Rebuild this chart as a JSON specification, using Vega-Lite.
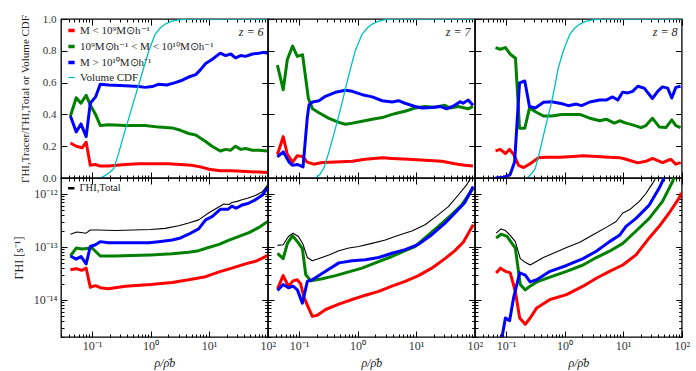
{
"$schema":"https://vega.github.io/schema/vega-lite/v6.json",
"padding":{"left":11,"top":12,"right":5,"bottom":5},
"datasets":{"d":[
{"z":6,"p":"f","s":"lo","x":0.0427,"y":0.22},{"z":6,"p":"f","s":"lo","x":0.0537,"y":0.2},{"z":6,"p":"f","s":"lo","x":0.0676,"y":0.19},{"z":6,"p":"f","s":"lo","x":0.0794,"y":0.225},{"z":6,"p":"f","s":"lo","x":0.0933,"y":0.08},{"z":6,"p":"f","s":"lo","x":0.1148,"y":0.085},{"z":6,"p":"f","s":"lo","x":0.138,"y":0.075},{"z":6,"p":"f","s":"lo","x":0.1905,"y":0.075},{"z":6,"p":"f","s":"lo","x":0.372,"y":0.085},{"z":6,"p":"f","s":"lo","x":0.631,"y":0.09},{"z":6,"p":"f","s":"lo","x":1,"y":0.09},{"z":6,"p":"f","s":"lo","x":2,"y":0.09},{"z":6,"p":"f","s":"lo","x":3.16,"y":0.085},{"z":6,"p":"f","s":"lo","x":5.01,"y":0.08},{"z":6,"p":"f","s":"lo","x":7.08,"y":0.07},{"z":6,"p":"f","s":"lo","x":10,"y":0.055},{"z":6,"p":"f","s":"lo","x":15.5,"y":0.045},{"z":6,"p":"f","s":"lo","x":25,"y":0.045},{"z":6,"p":"f","s":"lo","x":50,"y":0.04},{"z":6,"p":"f","s":"lo","x":100,"y":0.035},
{"z":6,"p":"f","s":"mid","x":0.0427,"y":0.39},{"z":6,"p":"f","s":"mid","x":0.0537,"y":0.505},{"z":6,"p":"f","s":"mid","x":0.0646,"y":0.47},{"z":6,"p":"f","s":"mid","x":0.0794,"y":0.52},{"z":6,"p":"f","s":"mid","x":0.0933,"y":0.46},{"z":6,"p":"f","s":"mid","x":0.1148,"y":0.4},{"z":6,"p":"f","s":"mid","x":0.138,"y":0.33},{"z":6,"p":"f","s":"mid","x":0.1905,"y":0.335},{"z":6,"p":"f","s":"mid","x":0.372,"y":0.33},{"z":6,"p":"f","s":"mid","x":0.81,"y":0.33},{"z":6,"p":"f","s":"mid","x":1.38,"y":0.32},{"z":6,"p":"f","s":"mid","x":2.34,"y":0.315},{"z":6,"p":"f","s":"mid","x":3.24,"y":0.3},{"z":6,"p":"f","s":"mid","x":4.47,"y":0.28},{"z":6,"p":"f","s":"mid","x":5.89,"y":0.27},{"z":6,"p":"f","s":"mid","x":8.71,"y":0.23},{"z":6,"p":"f","s":"mid","x":11.2,"y":0.2},{"z":6,"p":"f","s":"mid","x":15.5,"y":0.17},{"z":6,"p":"f","s":"mid","x":19.1,"y":0.18},{"z":6,"p":"f","s":"mid","x":23.4,"y":0.175},{"z":6,"p":"f","s":"mid","x":28.2,"y":0.2},{"z":6,"p":"f","s":"mid","x":34.7,"y":0.18},{"z":6,"p":"f","s":"mid","x":41.7,"y":0.185},{"z":6,"p":"f","s":"mid","x":55,"y":0.175},{"z":6,"p":"f","s":"mid","x":70.8,"y":0.175},{"z":6,"p":"f","s":"mid","x":100,"y":0.17},
{"z":6,"p":"f","s":"hi","x":0.0427,"y":0.39},{"z":6,"p":"f","s":"hi","x":0.0537,"y":0.29},{"z":6,"p":"f","s":"hi","x":0.0646,"y":0.34},{"z":6,"p":"f","s":"hi","x":0.0794,"y":0.26},{"z":6,"p":"f","s":"hi","x":0.0933,"y":0.47},{"z":6,"p":"f","s":"hi","x":0.1148,"y":0.51},{"z":6,"p":"f","s":"hi","x":0.138,"y":0.59},{"z":6,"p":"f","s":"hi","x":0.1905,"y":0.585},{"z":6,"p":"f","s":"hi","x":0.372,"y":0.58},{"z":6,"p":"f","s":"hi","x":0.631,"y":0.575},{"z":6,"p":"f","s":"hi","x":0.81,"y":0.57},{"z":6,"p":"f","s":"hi","x":1.07,"y":0.575},{"z":6,"p":"f","s":"hi","x":1.38,"y":0.59},{"z":6,"p":"f","s":"hi","x":1.9,"y":0.585},{"z":6,"p":"f","s":"hi","x":2.63,"y":0.6},{"z":6,"p":"f","s":"hi","x":3.47,"y":0.615},{"z":6,"p":"f","s":"hi","x":4.47,"y":0.635},{"z":6,"p":"f","s":"hi","x":5.89,"y":0.65},{"z":6,"p":"f","s":"hi","x":7.08,"y":0.68},{"z":6,"p":"f","s":"hi","x":8.71,"y":0.72},{"z":6,"p":"f","s":"hi","x":11.2,"y":0.745},{"z":6,"p":"f","s":"hi","x":15.5,"y":0.785},{"z":6,"p":"f","s":"hi","x":19.1,"y":0.77},{"z":6,"p":"f","s":"hi","x":23.4,"y":0.78},{"z":6,"p":"f","s":"hi","x":28.2,"y":0.755},{"z":6,"p":"f","s":"hi","x":34.7,"y":0.77},{"z":6,"p":"f","s":"hi","x":41.7,"y":0.765},{"z":6,"p":"f","s":"hi","x":55,"y":0.78},{"z":6,"p":"f","s":"hi","x":70.8,"y":0.785},{"z":6,"p":"f","s":"hi","x":85,"y":0.79},{"z":6,"p":"f","s":"hi","x":100,"y":0.785},
{"z":6,"p":"f","s":"cdf","x":0.138,"y":0},{"z":6,"p":"f","s":"cdf","x":0.166,"y":0.015},{"z":6,"p":"f","s":"cdf","x":0.2,"y":0.035},{"z":6,"p":"f","s":"cdf","x":0.234,"y":0.06},{"z":6,"p":"f","s":"cdf","x":0.282,"y":0.15},{"z":6,"p":"f","s":"cdf","x":0.347,"y":0.27},{"z":6,"p":"f","s":"cdf","x":0.427,"y":0.38},{"z":6,"p":"f","s":"cdf","x":0.513,"y":0.48},{"z":6,"p":"f","s":"cdf","x":0.631,"y":0.59},{"z":6,"p":"f","s":"cdf","x":0.759,"y":0.69},{"z":6,"p":"f","s":"cdf","x":0.933,"y":0.8},{"z":6,"p":"f","s":"cdf","x":1.2,"y":0.905},{"z":6,"p":"f","s":"cdf","x":1.48,"y":0.945},{"z":6,"p":"f","s":"cdf","x":1.78,"y":0.968},{"z":6,"p":"f","s":"cdf","x":2.24,"y":0.985},{"z":6,"p":"f","s":"cdf","x":3.02,"y":0.994},{"z":6,"p":"f","s":"cdf","x":4.47,"y":0.999},{"z":6,"p":"f","s":"cdf","x":6.61,"y":1},{"z":6,"p":"f","s":"cdf","x":100,"y":1},
{"z":7,"p":"f","s":"lo","x":0.0427,"y":0.148},{"z":7,"p":"f","s":"lo","x":0.0537,"y":0.26},{"z":7,"p":"f","s":"lo","x":0.0631,"y":0.148},{"z":7,"p":"f","s":"lo","x":0.0776,"y":0.1},{"z":7,"p":"f","s":"lo","x":0.0933,"y":0.14},{"z":7,"p":"f","s":"lo","x":0.1148,"y":0.135},{"z":7,"p":"f","s":"lo","x":0.138,"y":0.1},{"z":7,"p":"f","s":"lo","x":0.178,"y":0.087},{"z":7,"p":"f","s":"lo","x":0.251,"y":0.097},{"z":7,"p":"f","s":"lo","x":0.417,"y":0.1},{"z":7,"p":"f","s":"lo","x":0.813,"y":0.106},{"z":7,"p":"f","s":"lo","x":1.35,"y":0.118},{"z":7,"p":"f","s":"lo","x":2.63,"y":0.127},{"z":7,"p":"f","s":"lo","x":3.89,"y":0.123},{"z":7,"p":"f","s":"lo","x":7.41,"y":0.118},{"z":7,"p":"f","s":"lo","x":14.1,"y":0.112},{"z":7,"p":"f","s":"lo","x":27.5,"y":0.105},{"z":7,"p":"f","s":"lo","x":45.7,"y":0.09},{"z":7,"p":"f","s":"lo","x":67.6,"y":0.08},{"z":7,"p":"f","s":"lo","x":93.3,"y":0.076},
{"z":7,"p":"f","s":"mid","x":0.0427,"y":0.71},{"z":7,"p":"f","s":"mid","x":0.0537,"y":0.555},{"z":7,"p":"f","s":"mid","x":0.0631,"y":0.745},{"z":7,"p":"f","s":"mid","x":0.0776,"y":0.83},{"z":7,"p":"f","s":"mid","x":0.0933,"y":0.765},{"z":7,"p":"f","s":"mid","x":0.1148,"y":0.775},{"z":7,"p":"f","s":"mid","x":0.1445,"y":0.5},{"z":7,"p":"f","s":"mid","x":0.17,"y":0.435},{"z":7,"p":"f","s":"mid","x":0.219,"y":0.41},{"z":7,"p":"f","s":"mid","x":0.324,"y":0.375},{"z":7,"p":"f","s":"mid","x":0.479,"y":0.35},{"z":7,"p":"f","s":"mid","x":0.617,"y":0.338},{"z":7,"p":"f","s":"mid","x":0.813,"y":0.345},{"z":7,"p":"f","s":"mid","x":1.2,"y":0.357},{"z":7,"p":"f","s":"mid","x":1.78,"y":0.37},{"z":7,"p":"f","s":"mid","x":2.63,"y":0.38},{"z":7,"p":"f","s":"mid","x":3.89,"y":0.4},{"z":7,"p":"f","s":"mid","x":5.01,"y":0.41},{"z":7,"p":"f","s":"mid","x":6.46,"y":0.42},{"z":7,"p":"f","s":"mid","x":9.55,"y":0.44},{"z":7,"p":"f","s":"mid","x":14.1,"y":0.45},{"z":7,"p":"f","s":"mid","x":20.9,"y":0.445},{"z":7,"p":"f","s":"mid","x":30.9,"y":0.457},{"z":7,"p":"f","s":"mid","x":38,"y":0.44},{"z":7,"p":"f","s":"mid","x":52.5,"y":0.45},{"z":7,"p":"f","s":"mid","x":67.6,"y":0.44},{"z":7,"p":"f","s":"mid","x":77.6,"y":0.435},{"z":7,"p":"f","s":"mid","x":93.3,"y":0.45},
{"z":7,"p":"f","s":"hi","x":0.0427,"y":0.133},{"z":7,"p":"f","s":"hi","x":0.0537,"y":0.165},{"z":7,"p":"f","s":"hi","x":0.0676,"y":0.1},{"z":7,"p":"f","s":"hi","x":0.0776,"y":0.08},{"z":7,"p":"f","s":"hi","x":0.0933,"y":0.085},{"z":7,"p":"f","s":"hi","x":0.117,"y":0.07},{"z":7,"p":"f","s":"hi","x":0.138,"y":0.376},{"z":7,"p":"f","s":"hi","x":0.148,"y":0.46},{"z":7,"p":"f","s":"hi","x":0.17,"y":0.478},{"z":7,"p":"f","s":"hi","x":0.219,"y":0.486},{"z":7,"p":"f","s":"hi","x":0.282,"y":0.514},{"z":7,"p":"f","s":"hi","x":0.417,"y":0.539},{"z":7,"p":"f","s":"hi","x":0.617,"y":0.552},{"z":7,"p":"f","s":"hi","x":0.813,"y":0.545},{"z":7,"p":"f","s":"hi","x":1.2,"y":0.524},{"z":7,"p":"f","s":"hi","x":1.78,"y":0.51},{"z":7,"p":"f","s":"hi","x":2.63,"y":0.486},{"z":7,"p":"f","s":"hi","x":3.89,"y":0.478},{"z":7,"p":"f","s":"hi","x":5.01,"y":0.486},{"z":7,"p":"f","s":"hi","x":6.46,"y":0.47},{"z":7,"p":"f","s":"hi","x":9.55,"y":0.45},{"z":7,"p":"f","s":"hi","x":12.6,"y":0.44},{"z":7,"p":"f","s":"hi","x":18.6,"y":0.444},{"z":7,"p":"f","s":"hi","x":25.7,"y":0.45},{"z":7,"p":"f","s":"hi","x":33.1,"y":0.435},{"z":7,"p":"f","s":"hi","x":45.7,"y":0.457},{"z":7,"p":"f","s":"hi","x":56.2,"y":0.48},{"z":7,"p":"f","s":"hi","x":63.1,"y":0.47},{"z":7,"p":"f","s":"hi","x":77.6,"y":0.49},{"z":7,"p":"f","s":"hi","x":93.3,"y":0.457},
{"z":7,"p":"f","s":"cdf","x":0.191,"y":0},{"z":7,"p":"f","s":"cdf","x":0.224,"y":0.02},{"z":7,"p":"f","s":"cdf","x":0.263,"y":0.06},{"z":7,"p":"f","s":"cdf","x":0.316,"y":0.15},{"z":7,"p":"f","s":"cdf","x":0.389,"y":0.27},{"z":7,"p":"f","s":"cdf","x":0.468,"y":0.38},{"z":7,"p":"f","s":"cdf","x":0.55,"y":0.48},{"z":7,"p":"f","s":"cdf","x":0.646,"y":0.59},{"z":7,"p":"f","s":"cdf","x":0.759,"y":0.69},{"z":7,"p":"f","s":"cdf","x":0.912,"y":0.8},{"z":7,"p":"f","s":"cdf","x":1.2,"y":0.905},{"z":7,"p":"f","s":"cdf","x":1.48,"y":0.945},{"z":7,"p":"f","s":"cdf","x":1.78,"y":0.968},{"z":7,"p":"f","s":"cdf","x":2.24,"y":0.985},{"z":7,"p":"f","s":"cdf","x":2.82,"y":0.995},{"z":7,"p":"f","s":"cdf","x":3.89,"y":1},{"z":7,"p":"f","s":"cdf","x":100,"y":1},
{"z":8,"p":"f","s":"lo","x":0.0661,"y":0.171},{"z":8,"p":"f","s":"lo","x":0.0794,"y":0.18},{"z":8,"p":"f","s":"lo","x":0.0977,"y":0.154},{"z":8,"p":"f","s":"lo","x":0.115,"y":0.18},{"z":8,"p":"f","s":"lo","x":0.135,"y":0.148},{"z":8,"p":"f","s":"lo","x":0.164,"y":0.08},{"z":8,"p":"f","s":"lo","x":0.2,"y":0.066},{"z":8,"p":"f","s":"lo","x":0.258,"y":0.09},{"z":8,"p":"f","s":"lo","x":0.358,"y":0.127},{"z":8,"p":"f","s":"lo","x":0.495,"y":0.13},{"z":8,"p":"f","s":"lo","x":0.834,"y":0.13},{"z":8,"p":"f","s":"lo","x":1.4,"y":0.135},{"z":8,"p":"f","s":"lo","x":2.07,"y":0.14},{"z":8,"p":"f","s":"lo","x":3.48,"y":0.135},{"z":8,"p":"f","s":"lo","x":5.86,"y":0.13},{"z":8,"p":"f","s":"lo","x":8.67,"y":0.128},{"z":8,"p":"f","s":"lo","x":11.2,"y":0.118},{"z":8,"p":"f","s":"lo","x":17.7,"y":0.095},{"z":8,"p":"f","s":"lo","x":24.5,"y":0.105},{"z":8,"p":"f","s":"lo","x":31.8,"y":0.123},{"z":8,"p":"f","s":"lo","x":47,"y":0.097},{"z":8,"p":"f","s":"lo","x":65.2,"y":0.118},{"z":8,"p":"f","s":"lo","x":79.1,"y":0.087},{"z":8,"p":"f","s":"lo","x":96.2,"y":0.097},
{"z":8,"p":"f","s":"mid","x":0.0661,"y":0.82},{"z":8,"p":"f","s":"mid","x":0.0794,"y":0.81},{"z":8,"p":"f","s":"mid","x":0.0977,"y":0.82},{"z":8,"p":"f","s":"mid","x":0.117,"y":0.78},{"z":8,"p":"f","s":"mid","x":0.145,"y":0.753},{"z":8,"p":"f","s":"mid","x":0.17,"y":0.313},{"z":8,"p":"f","s":"mid","x":0.209,"y":0.313},{"z":8,"p":"f","s":"mid","x":0.251,"y":0.44},{"z":8,"p":"f","s":"mid","x":0.335,"y":0.412},{"z":8,"p":"f","s":"mid","x":0.437,"y":0.39},{"z":8,"p":"f","s":"mid","x":0.603,"y":0.39},{"z":8,"p":"f","s":"mid","x":0.891,"y":0.4},{"z":8,"p":"f","s":"mid","x":1.41,"y":0.4},{"z":8,"p":"f","s":"mid","x":1.82,"y":0.4},{"z":8,"p":"f","s":"mid","x":2.69,"y":0.376},{"z":8,"p":"f","s":"mid","x":3.98,"y":0.36},{"z":8,"p":"f","s":"mid","x":5.13,"y":0.37},{"z":8,"p":"f","s":"mid","x":7.08,"y":0.345},{"z":8,"p":"f","s":"mid","x":8.71,"y":0.36},{"z":8,"p":"f","s":"mid","x":11.2,"y":0.345},{"z":8,"p":"f","s":"mid","x":14.5,"y":0.334},{"z":8,"p":"f","s":"mid","x":20.2,"y":0.317},{"z":8,"p":"f","s":"mid","x":24.5,"y":0.33},{"z":8,"p":"f","s":"mid","x":31.6,"y":0.376},{"z":8,"p":"f","s":"mid","x":41.7,"y":0.32},{"z":8,"p":"f","s":"mid","x":53.7,"y":0.317},{"z":8,"p":"f","s":"mid","x":67.6,"y":0.366},{"z":8,"p":"f","s":"mid","x":79.4,"y":0.33},{"z":8,"p":"f","s":"mid","x":95.5,"y":0.317},
{"z":8,"p":"f","s":"hi","x":0.0661,"y":0},{"z":8,"p":"f","s":"hi","x":0.0912,"y":0.005},{"z":8,"p":"f","s":"hi","x":0.117,"y":0.02},{"z":8,"p":"f","s":"hi","x":0.14,"y":0.1},{"z":8,"p":"f","s":"hi","x":0.17,"y":0.598},{"z":8,"p":"f","s":"hi","x":0.209,"y":0.61},{"z":8,"p":"f","s":"hi","x":0.251,"y":0.45},{"z":8,"p":"f","s":"hi","x":0.316,"y":0.44},{"z":8,"p":"f","s":"hi","x":0.437,"y":0.476},{"z":8,"p":"f","s":"hi","x":0.603,"y":0.48},{"z":8,"p":"f","s":"hi","x":0.955,"y":0.465},{"z":8,"p":"f","s":"hi","x":1.15,"y":0.455},{"z":8,"p":"f","s":"hi","x":1.58,"y":0.465},{"z":8,"p":"f","s":"hi","x":1.95,"y":0.455},{"z":8,"p":"f","s":"hi","x":2.69,"y":0.478},{"z":8,"p":"f","s":"hi","x":3.98,"y":0.49},{"z":8,"p":"f","s":"hi","x":5.13,"y":0.49},{"z":8,"p":"f","s":"hi","x":6.61,"y":0.51},{"z":8,"p":"f","s":"hi","x":8.13,"y":0.49},{"z":8,"p":"f","s":"hi","x":9.77,"y":0.54},{"z":8,"p":"f","s":"hi","x":12,"y":0.535},{"z":8,"p":"f","s":"hi","x":14.5,"y":0.545},{"z":8,"p":"f","s":"hi","x":17.8,"y":0.577},{"z":8,"p":"f","s":"hi","x":22.9,"y":0.565},{"z":8,"p":"f","s":"hi","x":31.6,"y":0.5},{"z":8,"p":"f","s":"hi","x":38.9,"y":0.545},{"z":8,"p":"f","s":"hi","x":46.8,"y":0.573},{"z":8,"p":"f","s":"hi","x":57.5,"y":0.565},{"z":8,"p":"f","s":"hi","x":67.6,"y":0.503},{"z":8,"p":"f","s":"hi","x":79.4,"y":0.57},{"z":8,"p":"f","s":"hi","x":95.5,"y":0.577},
{"z":8,"p":"f","s":"cdf","x":0.229,"y":0},{"z":8,"p":"f","s":"cdf","x":0.269,"y":0.025},{"z":8,"p":"f","s":"cdf","x":0.316,"y":0.06},{"z":8,"p":"f","s":"cdf","x":0.372,"y":0.16},{"z":8,"p":"f","s":"cdf","x":0.437,"y":0.27},{"z":8,"p":"f","s":"cdf","x":0.513,"y":0.375},{"z":8,"p":"f","s":"cdf","x":0.603,"y":0.48},{"z":8,"p":"f","s":"cdf","x":0.692,"y":0.59},{"z":8,"p":"f","s":"cdf","x":0.776,"y":0.69},{"z":8,"p":"f","s":"cdf","x":0.955,"y":0.8},{"z":8,"p":"f","s":"cdf","x":1.23,"y":0.905},{"z":8,"p":"f","s":"cdf","x":1.51,"y":0.945},{"z":8,"p":"f","s":"cdf","x":1.82,"y":0.968},{"z":8,"p":"f","s":"cdf","x":2.29,"y":0.985},{"z":8,"p":"f","s":"cdf","x":3.02,"y":0.995},{"z":8,"p":"f","s":"cdf","x":4.47,"y":1},{"z":8,"p":"f","s":"cdf","x":100,"y":1},
{"z":6,"p":"g","s":"lo","x":0.0427,"y":3.72e-14},{"z":6,"p":"g","s":"lo","x":0.0537,"y":3.89e-14},{"z":6,"p":"g","s":"lo","x":0.0661,"y":3.63e-14},{"z":6,"p":"g","s":"lo","x":0.0794,"y":3.98e-14},{"z":6,"p":"g","s":"lo","x":0.0933,"y":1.74e-14},{"z":6,"p":"g","s":"lo","x":0.1148,"y":1.86e-14},{"z":6,"p":"g","s":"lo","x":0.138,"y":1.7e-14},{"z":6,"p":"g","s":"lo","x":0.1905,"y":1.62e-14},{"z":6,"p":"g","s":"lo","x":0.372,"y":1.82e-14},{"z":6,"p":"g","s":"lo","x":1,"y":1.95e-14},{"z":6,"p":"g","s":"lo","x":2.34,"y":2.14e-14},{"z":6,"p":"g","s":"lo","x":4.47,"y":2.4e-14},{"z":6,"p":"g","s":"lo","x":8.71,"y":2.75e-14},{"z":6,"p":"g","s":"lo","x":14.8,"y":3.39e-14},{"z":6,"p":"g","s":"lo","x":24.5,"y":3.98e-14},{"z":6,"p":"g","s":"lo","x":41.7,"y":4.79e-14},{"z":6,"p":"g","s":"lo","x":61.7,"y":5.37e-14},{"z":6,"p":"g","s":"lo","x":81.3,"y":6.17e-14},{"z":6,"p":"g","s":"lo","x":100,"y":6.92e-14},
{"z":6,"p":"g","s":"mid","x":0.0427,"y":6.76e-14},{"z":6,"p":"g","s":"mid","x":0.0537,"y":9.55e-14},{"z":6,"p":"g","s":"mid","x":0.0676,"y":9.12e-14},{"z":6,"p":"g","s":"mid","x":0.0813,"y":9.33e-14},{"z":6,"p":"g","s":"mid","x":0.1,"y":9.55e-14},{"z":6,"p":"g","s":"mid","x":0.138,"y":6.76e-14},{"z":6,"p":"g","s":"mid","x":0.251,"y":6.76e-14},{"z":6,"p":"g","s":"mid","x":0.479,"y":6.92e-14},{"z":6,"p":"g","s":"mid","x":1,"y":7.08e-14},{"z":6,"p":"g","s":"mid","x":2.34,"y":7.41e-14},{"z":6,"p":"g","s":"mid","x":4.47,"y":7.94e-14},{"z":6,"p":"g","s":"mid","x":6.61,"y":8.51e-14},{"z":6,"p":"g","s":"mid","x":9.77,"y":9.77e-14},{"z":6,"p":"g","s":"mid","x":14.8,"y":1.12e-13},{"z":6,"p":"g","s":"mid","x":21.9,"y":1.35e-13},{"z":6,"p":"g","s":"mid","x":32.4,"y":1.58e-13},{"z":6,"p":"g","s":"mid","x":47.9,"y":1.86e-13},{"z":6,"p":"g","s":"mid","x":70.8,"y":2.34e-13},{"z":6,"p":"g","s":"mid","x":100,"y":3.02e-13},
{"z":6,"p":"g","s":"hi","x":0.0427,"y":6.76e-14},{"z":6,"p":"g","s":"hi","x":0.0537,"y":5.89e-14},{"z":6,"p":"g","s":"hi","x":0.0646,"y":6.61e-14},{"z":6,"p":"g","s":"hi","x":0.0794,"y":4.79e-14},{"z":6,"p":"g","s":"hi","x":0.0933,"y":1.02e-13},{"z":6,"p":"g","s":"hi","x":0.1148,"y":1.1e-13},{"z":6,"p":"g","s":"hi","x":0.138,"y":1.26e-13},{"z":6,"p":"g","s":"hi","x":0.1905,"y":1.2e-13},{"z":6,"p":"g","s":"hi","x":0.372,"y":1.2e-13},{"z":6,"p":"g","s":"hi","x":0.933,"y":1.2e-13},{"z":6,"p":"g","s":"hi","x":1.38,"y":1.26e-13},{"z":6,"p":"g","s":"hi","x":2.34,"y":1.35e-13},{"z":6,"p":"g","s":"hi","x":3.24,"y":1.48e-13},{"z":6,"p":"g","s":"hi","x":4.47,"y":1.74e-13},{"z":6,"p":"g","s":"hi","x":6.61,"y":2.19e-13},{"z":6,"p":"g","s":"hi","x":8.71,"y":3.24e-13},{"z":6,"p":"g","s":"hi","x":11.2,"y":3.72e-13},{"z":6,"p":"g","s":"hi","x":15.5,"y":5.13e-13},{"z":6,"p":"g","s":"hi","x":20.9,"y":5.13e-13},{"z":6,"p":"g","s":"hi","x":24.5,"y":5.89e-13},{"z":6,"p":"g","s":"hi","x":28.8,"y":5.37e-13},{"z":6,"p":"g","s":"hi","x":36.3,"y":6.17e-13},{"z":6,"p":"g","s":"hi","x":46,"y":6.61e-13},{"z":6,"p":"g","s":"hi","x":61.7,"y":7.76e-13},{"z":6,"p":"g","s":"hi","x":81.3,"y":9.55e-13},{"z":6,"p":"g","s":"hi","x":100,"y":1.32e-12},
{"z":6,"p":"g","s":"tot","x":0.0427,"y":1.74e-13},{"z":6,"p":"g","s":"tot","x":0.055,"y":1.91e-13},{"z":6,"p":"g","s":"tot","x":0.0646,"y":1.88e-13},{"z":6,"p":"g","s":"tot","x":0.0794,"y":1.82e-13},{"z":6,"p":"g","s":"tot","x":0.0933,"y":2.09e-13},{"z":6,"p":"g","s":"tot","x":0.129,"y":2.09e-13},{"z":6,"p":"g","s":"tot","x":0.251,"y":2.04e-13},{"z":6,"p":"g","s":"tot","x":1,"y":2.14e-13},{"z":6,"p":"g","s":"tot","x":1.78,"y":2.24e-13},{"z":6,"p":"g","s":"tot","x":3.02,"y":2.51e-13},{"z":6,"p":"g","s":"tot","x":4.47,"y":2.82e-13},{"z":6,"p":"g","s":"tot","x":6.61,"y":3.24e-13},{"z":6,"p":"g","s":"tot","x":9.77,"y":4.37e-13},{"z":6,"p":"g","s":"tot","x":14.8,"y":5.75e-13},{"z":6,"p":"g","s":"tot","x":17.8,"y":6.46e-13},{"z":6,"p":"g","s":"tot","x":21.9,"y":6.31e-13},{"z":6,"p":"g","s":"tot","x":24.5,"y":6.92e-13},{"z":6,"p":"g","s":"tot","x":30,"y":7.24e-13},{"z":6,"p":"g","s":"tot","x":36.3,"y":7.76e-13},{"z":6,"p":"g","s":"tot","x":45,"y":8.3e-13},{"z":6,"p":"g","s":"tot","x":61.7,"y":9.33e-13},{"z":6,"p":"g","s":"tot","x":81.3,"y":1.1e-12},{"z":6,"p":"g","s":"tot","x":100,"y":1.48e-12},
{"z":7,"p":"g","s":"lo","x":0.0429,"y":1.62e-14},{"z":7,"p":"g","s":"lo","x":0.0535,"y":2.88e-14},{"z":7,"p":"g","s":"lo","x":0.0659,"y":1.82e-14},{"z":7,"p":"g","s":"lo","x":0.079,"y":2.29e-14},{"z":7,"p":"g","s":"lo","x":0.0937,"y":2.4e-14},{"z":7,"p":"g","s":"lo","x":0.1066,"y":2e-14},{"z":7,"p":"g","s":"lo","x":0.1216,"y":1.12e-14},{"z":7,"p":"g","s":"lo","x":0.144,"y":7.24e-15},{"z":7,"p":"g","s":"lo","x":0.1687,"y":4.9e-15},{"z":7,"p":"g","s":"lo","x":0.205,"y":5.13e-15},{"z":7,"p":"g","s":"lo","x":0.284,"y":6.61e-15},{"z":7,"p":"g","s":"lo","x":0.479,"y":8.32e-15},{"z":7,"p":"g","s":"lo","x":0.807,"y":1.02e-14},{"z":7,"p":"g","s":"lo","x":1.36,"y":1.23e-14},{"z":7,"p":"g","s":"lo","x":2.29,"y":1.45e-14},{"z":7,"p":"g","s":"lo","x":3.86,"y":1.82e-14},{"z":7,"p":"g","s":"lo","x":6.5,"y":2.24e-14},{"z":7,"p":"g","s":"lo","x":10.96,"y":2.88e-14},{"z":7,"p":"g","s":"lo","x":18.5,"y":3.98e-14},{"z":7,"p":"g","s":"lo","x":31.1,"y":6.03e-14},{"z":7,"p":"g","s":"lo","x":46,"y":8.51e-14},{"z":7,"p":"g","s":"lo","x":63.8,"y":1.23e-13},{"z":7,"p":"g","s":"lo","x":94.4,"y":2.63e-13},
{"z":7,"p":"g","s":"mid","x":0.0429,"y":7.59e-14},{"z":7,"p":"g","s":"mid","x":0.0535,"y":6.03e-14},{"z":7,"p":"g","s":"mid","x":0.0634,"y":1.17e-13},{"z":7,"p":"g","s":"mid","x":0.077,"y":1.62e-13},{"z":7,"p":"g","s":"mid","x":0.0937,"y":1.26e-13},{"z":7,"p":"g","s":"mid","x":0.114,"y":9.33e-14},{"z":7,"p":"g","s":"mid","x":0.13,"y":3.02e-14},{"z":7,"p":"g","s":"mid","x":0.158,"y":2.29e-14},{"z":7,"p":"g","s":"mid","x":0.249,"y":2.51e-14},{"z":7,"p":"g","s":"mid","x":0.42,"y":2.88e-14},{"z":7,"p":"g","s":"mid","x":0.708,"y":3.39e-14},{"z":7,"p":"g","s":"mid","x":1.19,"y":3.98e-14},{"z":7,"p":"g","s":"mid","x":2.01,"y":5.01e-14},{"z":7,"p":"g","s":"mid","x":3.86,"y":6.61e-14},{"z":7,"p":"g","s":"mid","x":6.5,"y":8.51e-14},{"z":7,"p":"g","s":"mid","x":9.61,"y":1.02e-13},{"z":7,"p":"g","s":"mid","x":14.2,"y":1.48e-13},{"z":7,"p":"g","s":"mid","x":24,"y":2.45e-13},{"z":7,"p":"g","s":"mid","x":40.4,"y":4.07e-13},{"z":7,"p":"g","s":"mid","x":59.7,"y":6.17e-13},{"z":7,"p":"g","s":"mid","x":94.4,"y":1.29e-12},
{"z":7,"p":"g","s":"hi","x":0.0429,"y":1.51e-14},{"z":7,"p":"g","s":"hi","x":0.0535,"y":1.95e-14},{"z":7,"p":"g","s":"hi","x":0.0659,"y":1.7e-14},{"z":7,"p":"g","s":"hi","x":0.079,"y":1.82e-14},{"z":7,"p":"g","s":"hi","x":0.0937,"y":1.55e-14},{"z":7,"p":"g","s":"hi","x":0.114,"y":8.71e-15},{"z":7,"p":"g","s":"hi","x":0.1387,"y":2.24e-14},{"z":7,"p":"g","s":"hi","x":0.1687,"y":2.4e-14},{"z":7,"p":"g","s":"hi","x":0.284,"y":3.47e-14},{"z":7,"p":"g","s":"hi","x":0.479,"y":5.01e-14},{"z":7,"p":"g","s":"hi","x":0.807,"y":5.5e-14},{"z":7,"p":"g","s":"hi","x":1.36,"y":5.75e-14},{"z":7,"p":"g","s":"hi","x":2.29,"y":6.31e-14},{"z":7,"p":"g","s":"hi","x":3.86,"y":7.59e-14},{"z":7,"p":"g","s":"hi","x":6.5,"y":8.91e-14},{"z":7,"p":"g","s":"hi","x":10.96,"y":1.12e-13},{"z":7,"p":"g","s":"hi","x":18.5,"y":1.7e-13},{"z":7,"p":"g","s":"hi","x":31.1,"y":2.82e-13},{"z":7,"p":"g","s":"hi","x":46,"y":4.37e-13},{"z":7,"p":"g","s":"hi","x":68.1,"y":6.92e-13},{"z":7,"p":"g","s":"hi","x":94.4,"y":1.38e-12},
{"z":7,"p":"g","s":"tot","x":0.0429,"y":1.07e-13},{"z":7,"p":"g","s":"tot","x":0.0535,"y":1.1e-13},{"z":7,"p":"g","s":"tot","x":0.0659,"y":1.58e-13},{"z":7,"p":"g","s":"tot","x":0.079,"y":1.82e-13},{"z":7,"p":"g","s":"tot","x":0.0975,"y":1.58e-13},{"z":7,"p":"g","s":"tot","x":0.117,"y":1.12e-13},{"z":7,"p":"g","s":"tot","x":0.1387,"y":6.31e-14},{"z":7,"p":"g","s":"tot","x":0.1687,"y":5.5e-14},{"z":7,"p":"g","s":"tot","x":0.219,"y":6.03e-14},{"z":7,"p":"g","s":"tot","x":0.324,"y":7.08e-14},{"z":7,"p":"g","s":"tot","x":0.479,"y":8.51e-14},{"z":7,"p":"g","s":"tot","x":0.708,"y":9.55e-14},{"z":7,"p":"g","s":"tot","x":1.047,"y":1.02e-13},{"z":7,"p":"g","s":"tot","x":1.76,"y":1.17e-13},{"z":7,"p":"g","s":"tot","x":2.97,"y":1.35e-13},{"z":7,"p":"g","s":"tot","x":5.01,"y":1.66e-13},{"z":7,"p":"g","s":"tot","x":8.43,"y":2e-13},{"z":7,"p":"g","s":"tot","x":14.2,"y":2.63e-13},{"z":7,"p":"g","s":"tot","x":24,"y":4.07e-13},{"z":7,"p":"g","s":"tot","x":35.5,"y":5.75e-13},{"z":7,"p":"g","s":"tot","x":52.5,"y":9.55e-13},{"z":7,"p":"g","s":"tot","x":72.6,"y":1.48e-12},{"z":7,"p":"g","s":"tot","x":86.1,"y":2.04e-12},
{"z":8,"p":"g","s":"lo","x":0.0678,"y":3.24e-14},{"z":8,"p":"g","s":"lo","x":0.0802,"y":3.98e-14},{"z":8,"p":"g","s":"lo","x":0.0975,"y":3.47e-14},{"z":8,"p":"g","s":"lo","x":0.118,"y":3.24e-14},{"z":8,"p":"g","s":"lo","x":0.144,"y":1.45e-14},{"z":8,"p":"g","s":"lo","x":0.171,"y":4.57e-15},{"z":8,"p":"g","s":"lo","x":0.213,"y":3.47e-15},{"z":8,"p":"g","s":"lo","x":0.258,"y":4.57e-15},{"z":8,"p":"g","s":"lo","x":0.335,"y":7.08e-15},{"z":8,"p":"g","s":"lo","x":0.564,"y":1.02e-14},{"z":8,"p":"g","s":"lo","x":1.08,"y":1.26e-14},{"z":8,"p":"g","s":"lo","x":2.07,"y":1.82e-14},{"z":8,"p":"g","s":"lo","x":3.48,"y":2.57e-14},{"z":8,"p":"g","s":"lo","x":5.86,"y":3.47e-14},{"z":8,"p":"g","s":"lo","x":9.87,"y":4.57e-14},{"z":8,"p":"g","s":"lo","x":16.6,"y":7.08e-14},{"z":8,"p":"g","s":"lo","x":27.9,"y":1.48e-13},{"z":8,"p":"g","s":"lo","x":41.3,"y":2.45e-13},{"z":8,"p":"g","s":"lo","x":61,"y":4.37e-13},{"z":8,"p":"g","s":"lo","x":90.2,"y":8.32e-13},{"z":8,"p":"g","s":"lo","x":98.6,"y":1.05e-12},
{"z":8,"p":"g","s":"mid","x":0.0678,"y":1.48e-13},{"z":8,"p":"g","s":"mid","x":0.0823,"y":1.74e-13},{"z":8,"p":"g","s":"mid","x":0.104,"y":1.58e-13},{"z":8,"p":"g","s":"mid","x":0.144,"y":9.55e-14},{"z":8,"p":"g","s":"mid","x":0.175,"y":1.95e-14},{"z":8,"p":"g","s":"mid","x":0.213,"y":1.55e-14},{"z":8,"p":"g","s":"mid","x":0.258,"y":1.82e-14},{"z":8,"p":"g","s":"mid","x":0.335,"y":2.19e-14},{"z":8,"p":"g","s":"mid","x":0.564,"y":2.69e-14},{"z":8,"p":"g","s":"mid","x":1.08,"y":3.47e-14},{"z":8,"p":"g","s":"mid","x":2.07,"y":4.57e-14},{"z":8,"p":"g","s":"mid","x":3.48,"y":6.31e-14},{"z":8,"p":"g","s":"mid","x":5.86,"y":8.32e-14},{"z":8,"p":"g","s":"mid","x":9.87,"y":1.17e-13},{"z":8,"p":"g","s":"mid","x":16.6,"y":2e-13},{"z":8,"p":"g","s":"mid","x":27.9,"y":3.47e-13},{"z":8,"p":"g","s":"mid","x":47,"y":7.24e-13},{"z":8,"p":"g","s":"mid","x":69.5,"y":1.7e-12},{"z":8,"p":"g","s":"mid","x":74.1,"y":2.04e-12},
{"z":8,"p":"g","s":"hi","x":0.0802,"y":1.2e-15},{"z":8,"p":"g","s":"hi","x":0.0855,"y":2e-15},{"z":8,"p":"g","s":"hi","x":0.0975,"y":4.57e-15},{"z":8,"p":"g","s":"hi","x":0.115,"y":4.07e-15},{"z":8,"p":"g","s":"hi","x":0.135,"y":1.12e-14},{"z":8,"p":"g","s":"hi","x":0.171,"y":3.24e-14},{"z":8,"p":"g","s":"hi","x":0.213,"y":2.95e-14},{"z":8,"p":"g","s":"hi","x":0.258,"y":2.19e-14},{"z":8,"p":"g","s":"hi","x":0.335,"y":2.4e-14},{"z":8,"p":"g","s":"hi","x":0.564,"y":3.47e-14},{"z":8,"p":"g","s":"hi","x":1.08,"y":4.47e-14},{"z":8,"p":"g","s":"hi","x":2.07,"y":6.03e-14},{"z":8,"p":"g","s":"hi","x":3.48,"y":8.32e-14},{"z":8,"p":"g","s":"hi","x":5.86,"y":1.26e-13},{"z":8,"p":"g","s":"hi","x":8.67,"y":1.66e-13},{"z":8,"p":"g","s":"hi","x":11.2,"y":2.45e-13},{"z":8,"p":"g","s":"hi","x":16.6,"y":3.47e-13},{"z":8,"p":"g","s":"hi","x":27.9,"y":6.17e-13},{"z":8,"p":"g","s":"hi","x":41.3,"y":1.29e-12},{"z":8,"p":"g","s":"hi","x":50.2,"y":2.04e-12},
{"z":8,"p":"g","s":"tot","x":0.0678,"y":1.82e-13},{"z":8,"p":"g","s":"tot","x":0.0823,"y":2.19e-13},{"z":8,"p":"g","s":"tot","x":0.0975,"y":2.04e-13},{"z":8,"p":"g","s":"tot","x":0.118,"y":1.66e-13},{"z":8,"p":"g","s":"tot","x":0.144,"y":1.26e-13},{"z":8,"p":"g","s":"tot","x":0.175,"y":6.03e-14},{"z":8,"p":"g","s":"tot","x":0.213,"y":5.13e-14},{"z":8,"p":"g","s":"tot","x":0.258,"y":4.57e-14},{"z":8,"p":"g","s":"tot","x":0.335,"y":5.37e-14},{"z":8,"p":"g","s":"tot","x":0.434,"y":6.31e-14},{"z":8,"p":"g","s":"tot","x":0.643,"y":7.59e-14},{"z":8,"p":"g","s":"tot","x":1.08,"y":9.77e-14},{"z":8,"p":"g","s":"tot","x":1.82,"y":1.23e-13},{"z":8,"p":"g","s":"tot","x":3.06,"y":1.7e-13},{"z":8,"p":"g","s":"tot","x":5.15,"y":2.34e-13},{"z":8,"p":"g","s":"tot","x":7.6,"y":3.02e-13},{"z":8,"p":"g","s":"tot","x":9.87,"y":4.37e-13},{"z":8,"p":"g","s":"tot","x":12.8,"y":5.01e-13},{"z":8,"p":"g","s":"tot","x":18.9,"y":7.24e-13},{"z":8,"p":"g","s":"tot","x":24.5,"y":1.02e-12},{"z":8,"p":"g","s":"tot","x":31.8,"y":1.58e-12},{"z":8,"p":"g","s":"tot","x":36.3,"y":2.04e-12}
]},
"data":{"name":"d"},
"columns":3,
"spacing":0,
"bounds":"flush",
"resolve":{"scale":{"color":"independent"},"legend":{"color":"independent"}},
"concat":[
 {"width":206.7,"height":159,
  "layer":[
   {"transform":[{"filter":"datum.z==6 && datum.p=='f'"}],
    "mark":{"type":"line","clip":true,"strokeJoin":"round"},
    "encoding":{
     "x":{"field":"x","type":"quantitative","scale":{"type":"log","domain":[0.0295,100],"nice":false},"axis":{"orient":"bottom","tickCount":20,"labels":false,"title":null,"tickSize":{"condition":{"test":"abs(log(datum.value)/LN10 - round(log(datum.value)/LN10)) < 0.001","value":-6},"value":-3}}},
     "y":{"field":"y","type":"quantitative","scale":{"domain":[0,1],"nice":false,"zero":false},"axis":{"orient":"left","values":[0,0.2,0.4,0.6,0.8,1],"format":".1f","tickSize":-6,"labelPadding":11,"title":"ΓHI,Tracer/ΓHI,Total or Volume CDF","titleFontSize":11,"titlePadding":12}},
     "color":{"field":"s","type":"nominal","scale":{"domain":["lo","mid","hi","cdf"],"range":["#ff0000","#008000","#0000ff","#00bfbf"]},
       "legend":{"orient":"none","legendX":5,"legendY":6,"title":null,"symbolType":"stroke","symbolSize":40,"symbolStrokeWidth":3.5,"labelFont":"Liberation Serif","labelFontSize":11,"labelColor":"#222","rowPadding":1,"labelOffset":3,
         "labelExpr":"datum.value=='lo' ? 'M < 10⁹M⊙h⁻¹' : datum.value=='mid' ? '10⁹M⊙h⁻¹ < M < 10¹⁰M⊙h⁻¹' : datum.value=='hi' ? 'M > 10¹⁰M⊙h⁻¹' : 'Volume CDF'",
         "encode":{"symbols":{"update":{"strokeWidth":{"signal":"datum.value=='cdf' ? 1.3 : 3.5"}}}}}},
     "strokeWidth":{"condition":[{"test":"datum.s=='cdf'","value":1.3},{"test":"datum.s=='tot'","value":1.1}],"value":3}
    }},
   {"data":{"values":[{"label":"z = 6"}]},
    "mark":{"type":"text","align":"right","baseline":"middle","font":"Liberation Serif","fontSize":12,"fontStyle":"italic","color":"#222"},
    "encoding":{
     "x":{"datum":85,"type":"quantitative","scale":{"type":"log","domain":[0.0295,100],"nice":false},"axis":{"orient":"top","tickCount":20,"labels":false,"title":null,"tickSize":{"condition":{"test":"abs(log(datum.value)/LN10 - round(log(datum.value)/LN10)) < 0.001","value":-6},"value":-3}}},
     "y":{"datum":0.92,"type":"quantitative","scale":{"domain":[0,1],"nice":false,"zero":false},"axis":{"orient":"right","values":[0,0.2,0.4,0.6,0.8,1],"labels":false,"title":null,"tickSize":-6}},
     "text":{"field":"label"}}}
  ],
  "resolve":{"axis":{"x":"independent","y":"independent"}}},
 {"width":206.7,"height":159,
  "layer":[
   {"transform":[{"filter":"datum.z==7 && datum.p=='f'"}],
    "mark":{"type":"line","clip":true,"strokeJoin":"round"},
    "encoding":{
     "x":{"field":"x","type":"quantitative","scale":{"type":"log","domain":[0.0295,100],"nice":false},"axis":{"orient":"bottom","tickCount":20,"labels":false,"title":null,"tickSize":{"condition":{"test":"abs(log(datum.value)/LN10 - round(log(datum.value)/LN10)) < 0.001","value":-6},"value":-3}}},
     "y":{"field":"y","type":"quantitative","scale":{"domain":[0,1],"nice":false,"zero":false},"axis":{"orient":"left","values":[0,0.2,0.4,0.6,0.8,1],"labels":false,"tickSize":-6,"title":null}},
     "color":{"field":"s","type":"nominal","scale":{"domain":["lo","mid","hi","cdf"],"range":["#ff0000","#008000","#0000ff","#00bfbf"]},"legend":null},
     "strokeWidth":{"condition":[{"test":"datum.s=='cdf'","value":1.3},{"test":"datum.s=='tot'","value":1.1}],"value":3}
    }},
   {"data":{"values":[{"label":"z = 7"}]},
    "mark":{"type":"text","align":"right","baseline":"middle","font":"Liberation Serif","fontSize":12,"fontStyle":"italic","color":"#222"},
    "encoding":{
     "x":{"datum":85,"type":"quantitative","scale":{"type":"log","domain":[0.0295,100],"nice":false},"axis":{"orient":"top","tickCount":20,"labels":false,"title":null,"tickSize":{"condition":{"test":"abs(log(datum.value)/LN10 - round(log(datum.value)/LN10)) < 0.001","value":-6},"value":-3}}},
     "y":{"datum":0.92,"type":"quantitative","scale":{"domain":[0,1],"nice":false,"zero":false},"axis":{"orient":"right","values":[0,0.2,0.4,0.6,0.8,1],"labels":false,"title":null,"tickSize":-6}},
     "text":{"field":"label"}}}
  ],
  "resolve":{"axis":{"x":"independent","y":"independent"}}},
 {"width":206.7,"height":159,
  "layer":[
   {"transform":[{"filter":"datum.z==8 && datum.p=='f'"}],
    "mark":{"type":"line","clip":true,"strokeJoin":"round"},
    "encoding":{
     "x":{"field":"x","type":"quantitative","scale":{"type":"log","domain":[0.0295,100],"nice":false},"axis":{"orient":"bottom","tickCount":20,"labels":false,"title":null,"tickSize":{"condition":{"test":"abs(log(datum.value)/LN10 - round(log(datum.value)/LN10)) < 0.001","value":-6},"value":-3}}},
     "y":{"field":"y","type":"quantitative","scale":{"domain":[0,1],"nice":false,"zero":false},"axis":{"orient":"left","values":[0,0.2,0.4,0.6,0.8,1],"labels":false,"tickSize":-6,"title":null}},
     "color":{"field":"s","type":"nominal","scale":{"domain":["lo","mid","hi","cdf"],"range":["#ff0000","#008000","#0000ff","#00bfbf"]},"legend":null},
     "strokeWidth":{"condition":[{"test":"datum.s=='cdf'","value":1.3},{"test":"datum.s=='tot'","value":1.1}],"value":3}
    }},
   {"data":{"values":[{"label":"z = 8"}]},
    "mark":{"type":"text","align":"right","baseline":"middle","font":"Liberation Serif","fontSize":12,"fontStyle":"italic","color":"#222"},
    "encoding":{
     "x":{"datum":85,"type":"quantitative","scale":{"type":"log","domain":[0.0295,100],"nice":false},"axis":{"orient":"top","tickCount":20,"labels":false,"title":null,"tickSize":{"condition":{"test":"abs(log(datum.value)/LN10 - round(log(datum.value)/LN10)) < 0.001","value":-6},"value":-3}}},
     "y":{"datum":0.92,"type":"quantitative","scale":{"domain":[0,1],"nice":false,"zero":false},"axis":{"orient":"right","values":[0,0.2,0.4,0.6,0.8,1],"labels":false,"title":null,"tickSize":-6}},
     "text":{"field":"label"}}}
  ],
  "resolve":{"axis":{"x":"independent","y":"independent"}}},
 {"width":206.7,"height":159,
  "layer":[
   {"transform":[{"filter":"datum.z==6 && datum.p=='g'"}],
    "mark":{"type":"line","clip":true,"strokeJoin":"round"},
    "encoding":{
     "x":{"field":"x","type":"quantitative","scale":{"type":"log","domain":[0.0295,100],"nice":false},"axis":{"orient":"bottom","tickCount":20,"labelExpr":"abs(log(datum.value)/LN10 - round(log(datum.value)/LN10)) < 0.001 ? '10' + replace(replace(replace(replace(replace(replace('' + round(log(datum.value)/LN10), '-', '⁻'), '0', '⁰'), '1', '¹'), '2', '²'), '3', '³'), '4', '⁴') : ''","labelPadding":9,"labelFontSize":12,"title":"ρ/ρ̄b","titleFontStyle":"italic","titlePadding":3,"tickSize":{"condition":{"test":"abs(log(datum.value)/LN10 - round(log(datum.value)/LN10)) < 0.001","value":-6},"value":-3}}},
     "y":{"field":"y","type":"quantitative","scale":{"type":"log","domain":[2e-15,2e-12],"nice":false},"axis":{"orient":"left","tickCount":20,"labelExpr":"abs(log(datum.value)/LN10 - round(log(datum.value)/LN10)) < 0.001 ? '10' + replace(replace(replace(replace(replace(replace('' + round(log(datum.value)/LN10), '-', '⁻'), '0', '⁰'), '1', '¹'), '2', '²'), '3', '³'), '4', '⁴') : ''","labelPadding":10,"labelFontSize":12,"title":"ΓHI [s⁻¹]","titlePadding":8,"tickSize":{"condition":{"test":"abs(log(datum.value)/LN10 - round(log(datum.value)/LN10)) < 0.001","value":-6},"value":-3}}},
     "color":{"field":"s","type":"nominal","scale":{"domain":["lo","mid","hi","tot"],"range":["#ff0000","#008000","#0000ff","#000000"]},
       "legend":{"values":["tot"],"orient":"none","legendX":5,"legendY":5,"title":null,"symbolType":"stroke","symbolSize":40,"symbolStrokeWidth":2.5,"labelFont":"Liberation Serif","labelFontSize":10.5,"labelColor":"#222","labelOffset":3,"labelExpr":"'ΓHI,Total'"}},
     "strokeWidth":{"condition":[{"test":"datum.s=='cdf'","value":1.3},{"test":"datum.s=='tot'","value":1.1}],"value":3}
    }},
   {"data":{"values":[{"label":""}]},
    "mark":{"type":"text"},
    "encoding":{
     "x":{"datum":1,"type":"quantitative","scale":{"type":"log","domain":[0.0295,100],"nice":false},"axis":{"orient":"top","tickCount":20,"labels":false,"title":null,"tickSize":{"condition":{"test":"abs(log(datum.value)/LN10 - round(log(datum.value)/LN10)) < 0.001","value":-6},"value":-3}}},
     "y":{"datum":1e-13,"type":"quantitative","scale":{"type":"log","domain":[2e-15,2e-12],"nice":false},"axis":{"orient":"right","tickCount":20,"labels":false,"title":null,"tickSize":{"condition":{"test":"abs(log(datum.value)/LN10 - round(log(datum.value)/LN10)) < 0.001","value":-6},"value":-3}}},
     "text":{"field":"label"}}}
  ],
  "resolve":{"axis":{"x":"independent","y":"independent"}}},
 {"width":206.7,"height":159,
  "layer":[
   {"transform":[{"filter":"datum.z==7 && datum.p=='g'"}],
    "mark":{"type":"line","clip":true,"strokeJoin":"round"},
    "encoding":{
     "x":{"field":"x","type":"quantitative","scale":{"type":"log","domain":[0.0295,100],"nice":false},"axis":{"orient":"bottom","tickCount":20,"labelExpr":"abs(log(datum.value)/LN10 - round(log(datum.value)/LN10)) < 0.001 ? '10' + replace(replace(replace(replace(replace(replace('' + round(log(datum.value)/LN10), '-', '⁻'), '0', '⁰'), '1', '¹'), '2', '²'), '3', '³'), '4', '⁴') : ''","labelPadding":9,"labelFontSize":12,"title":"ρ/ρ̄b","titleFontStyle":"italic","titlePadding":3,"tickSize":{"condition":{"test":"abs(log(datum.value)/LN10 - round(log(datum.value)/LN10)) < 0.001","value":-6},"value":-3}}},
     "y":{"field":"y","type":"quantitative","scale":{"type":"log","domain":[2e-15,2e-12],"nice":false},"axis":{"orient":"left","tickCount":20,"labels":false,"title":null,"tickSize":{"condition":{"test":"abs(log(datum.value)/LN10 - round(log(datum.value)/LN10)) < 0.001","value":-6},"value":-3}}},
     "color":{"field":"s","type":"nominal","scale":{"domain":["lo","mid","hi","tot"],"range":["#ff0000","#008000","#0000ff","#000000"]},"legend":null},
     "strokeWidth":{"condition":[{"test":"datum.s=='cdf'","value":1.3},{"test":"datum.s=='tot'","value":1.1}],"value":3}
    }},
   {"data":{"values":[{"label":""}]},
    "mark":{"type":"text"},
    "encoding":{
     "x":{"datum":1,"type":"quantitative","scale":{"type":"log","domain":[0.0295,100],"nice":false},"axis":{"orient":"top","tickCount":20,"labels":false,"title":null,"tickSize":{"condition":{"test":"abs(log(datum.value)/LN10 - round(log(datum.value)/LN10)) < 0.001","value":-6},"value":-3}}},
     "y":{"datum":1e-13,"type":"quantitative","scale":{"type":"log","domain":[2e-15,2e-12],"nice":false},"axis":{"orient":"right","tickCount":20,"labels":false,"title":null,"tickSize":{"condition":{"test":"abs(log(datum.value)/LN10 - round(log(datum.value)/LN10)) < 0.001","value":-6},"value":-3}}},
     "text":{"field":"label"}}}
  ],
  "resolve":{"axis":{"x":"independent","y":"independent"}}},
 {"width":206.7,"height":159,
  "layer":[
   {"transform":[{"filter":"datum.z==8 && datum.p=='g'"}],
    "mark":{"type":"line","clip":true,"strokeJoin":"round"},
    "encoding":{
     "x":{"field":"x","type":"quantitative","scale":{"type":"log","domain":[0.0295,100],"nice":false},"axis":{"orient":"bottom","tickCount":20,"labelExpr":"abs(log(datum.value)/LN10 - round(log(datum.value)/LN10)) < 0.001 ? '10' + replace(replace(replace(replace(replace(replace('' + round(log(datum.value)/LN10), '-', '⁻'), '0', '⁰'), '1', '¹'), '2', '²'), '3', '³'), '4', '⁴') : ''","labelPadding":9,"labelFontSize":12,"title":"ρ/ρ̄b","titleFontStyle":"italic","titlePadding":3,"tickSize":{"condition":{"test":"abs(log(datum.value)/LN10 - round(log(datum.value)/LN10)) < 0.001","value":-6},"value":-3}}},
     "y":{"field":"y","type":"quantitative","scale":{"type":"log","domain":[2e-15,2e-12],"nice":false},"axis":{"orient":"left","tickCount":20,"labels":false,"title":null,"tickSize":{"condition":{"test":"abs(log(datum.value)/LN10 - round(log(datum.value)/LN10)) < 0.001","value":-6},"value":-3}}},
     "color":{"field":"s","type":"nominal","scale":{"domain":["lo","mid","hi","tot"],"range":["#ff0000","#008000","#0000ff","#000000"]},"legend":null},
     "strokeWidth":{"condition":[{"test":"datum.s=='cdf'","value":1.3},{"test":"datum.s=='tot'","value":1.1}],"value":3}
    }},
   {"data":{"values":[{"label":""}]},
    "mark":{"type":"text"},
    "encoding":{
     "x":{"datum":1,"type":"quantitative","scale":{"type":"log","domain":[0.0295,100],"nice":false},"axis":{"orient":"top","tickCount":20,"labels":false,"title":null,"tickSize":{"condition":{"test":"abs(log(datum.value)/LN10 - round(log(datum.value)/LN10)) < 0.001","value":-6},"value":-3}}},
     "y":{"datum":1e-13,"type":"quantitative","scale":{"type":"log","domain":[2e-15,2e-12],"nice":false},"axis":{"orient":"right","tickCount":20,"labels":false,"title":null,"tickSize":{"condition":{"test":"abs(log(datum.value)/LN10 - round(log(datum.value)/LN10)) < 0.001","value":-6},"value":-3}}},
     "text":{"field":"label"}}}
  ],
  "resolve":{"axis":{"x":"independent","y":"independent"}}}
],
"config":{
 "view":{"stroke":"#000","strokeWidth":1.3},
 "axis":{"domain":false,"grid":false,"tickColor":"#000","tickWidth":1,"labelFont":"Liberation Serif","labelFontSize":11,"labelColor":"#333","titleFont":"Liberation Serif","titleFontSize":12,"titleFontWeight":"normal","titleColor":"#222","labelFlush":false,"labelOverlap":false,"labelBound":false},
 "text":{"font":"Liberation Serif"}
}
}
